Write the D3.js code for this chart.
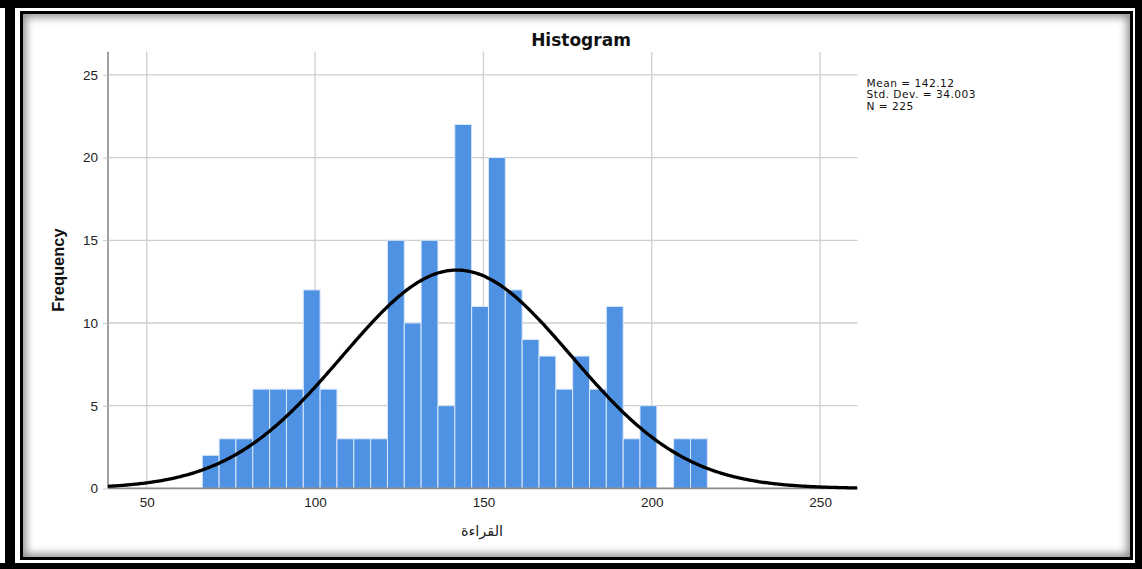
<!DOCTYPE html>
<html>
<head>
<meta charset="utf-8">
<script src="https://cdn.jsdelivr.net/npm/d3@7/dist/d3.min.js"></script>
<style>
  html, body { margin: 0; padding: 0; background: #fff; }
  body { width: 1142px; height: 569px; position: relative; overflow: hidden; }
  .blk { position: absolute; background: #000; }
  #inner { position: absolute; left: 20px; top: 11px; width: 1107px; height: 543px;
           border: 3px solid #000; box-shadow: inset 0 0 9px 3px rgba(0,0,0,0.45); background: #fff; }
  svg { position: absolute; left: 0; top: 0; }
</style>
</head>
<body>
<div class="blk" style="left:0;top:0;width:1142px;height:8px"></div>
<div class="blk" style="left:5px;top:0;width:10px;height:569px"></div>
<div class="blk" style="left:0;top:563px;width:1142px;height:6px"></div>
<div class="blk" style="left:1135px;top:0;width:7px;height:569px"></div>
<div id="inner"></div>
<svg id="chart" width="1142" height="569"></svg>
<script>
// ---- data ----
const binStart = 66.5;
const binWidth = 5;
const counts = [2, 3, 3, 6, 6, 6, 12, 6, 3, 3, 3, 15, 10, 15, 5, 22, 11, 20, 12, 9, 8, 6, 8, 6, 11, 3, 5, 0, 3, 3];
const xTicks = [50, 100, 150, 200, 250];
const yTicks = [0, 5, 10, 15, 20, 25];
const statsLines = ["Mean = 142.12", "Std. Dev. = 34.003", "N = 225"];
const mean = 142.12, sd = 34.003, N = 225;
const title = "Histogram";
const xLabel = "القراءة";
const yLabel = "Frequency";

// ---- layout ----
const svg = d3.select("#chart");
const x = d3.scaleLinear().domain([38.5, 261.1]).range([108, 857.5]);
const y = d3.scaleLinear().domain([0, 26.4]).range([488.4, 51.7]);

const bins = counts.map((c, i) => ({ x0: binStart + i * binWidth, x1: binStart + (i + 1) * binWidth, c }));

// grid
svg.append("g").selectAll("line").data(yTicks.filter(d => d > 0)).join("line")
  .attr("x1", x.range()[0]).attr("x2", x.range()[1])
  .attr("y1", d => y(d)).attr("y2", d => y(d))
  .attr("stroke", "#cfcfcf").attr("stroke-width", 1.3);
svg.append("g").selectAll("line").data(xTicks).join("line")
  .attr("x1", d => x(d)).attr("x2", d => x(d))
  .attr("y1", y.range()[1]).attr("y2", y.range()[0])
  .attr("stroke", "#cfcfcf").attr("stroke-width", 1.3);

// bars
svg.append("g").selectAll("rect").data(bins.filter(b => b.c > 0)).join("rect")
  .attr("x", b => x(b.x0)).attr("width", b => x(b.x1) - x(b.x0))
  .attr("y", b => y(b.c)).attr("height", b => y(0) - y(b.c))
  .attr("fill", "#4f91e3").attr("stroke", "#d9e8fa").attr("stroke-width", 1);

// axes
const yAxis = svg.append("g").attr("transform", `translate(${x.range()[0]},0)`)
  .call(d3.axisLeft(y).tickValues(yTicks).tickSize(5).tickPadding(5));
const xAxis = svg.append("g").attr("transform", `translate(0,${y(0)})`)
  .call(d3.axisBottom(x).tickValues(xTicks).tickSize(0).tickPadding(9));
[yAxis, xAxis].forEach(g => {
  g.select(".domain").attr("stroke", "#8a8a8a").attr("stroke-width", 1.6);
  g.selectAll(".tick line").attr("stroke", "#c8c8c8");
  g.selectAll("text").attr("fill", "#222").style("font-family", "'Liberation Sans', Arial, sans-serif").style("font-size", "13.5px");
});
xAxis.select(".domain").attr("d", `M${x.range()[0]},0H${x.range()[1]}`);
yAxis.select(".domain").attr("d", `M0,${y.range()[0]}V${y.range()[1]}`);

// normal curve
const pdf = v => N * binWidth / (sd * Math.sqrt(2 * Math.PI)) * Math.exp(-0.5 * ((v - mean) / sd) ** 2);
const xs = d3.range(x.domain()[0], x.domain()[1] + 0.01, 0.5);
svg.append("path").datum(xs)
  .attr("d", d3.line().x(v => x(v)).y(v => y(pdf(v))).curve(d3.curveBasis))
  .attr("fill", "none").attr("stroke", "#000").attr("stroke-width", 3.3);

// title
svg.append("text").attr("x", 581).attr("y", 46).attr("text-anchor", "middle")
  .style("font-family", "'DejaVu Sans', sans-serif").style("font-weight", "bold").style("font-size", "17px")
  .attr("fill", "#111").text(title);

// y label
svg.append("text").attr("transform", `translate(64,${(y.range()[0] + y.range()[1]) / 2}) rotate(-90)`)
  .attr("text-anchor", "middle")
  .style("font-family", "'Liberation Sans', Arial, sans-serif").style("font-weight", "bold").style("font-size", "16.5px")
  .attr("fill", "#111").text(yLabel);

// x label
svg.append("text").attr("x", 482).attr("y", 536).attr("text-anchor", "middle")
  .style("font-family", "'DejaVu Sans', sans-serif").style("font-size", "14.5px")
  .style("letter-spacing", "0.6px")
  .attr("fill", "#222").text(xLabel);

// stats
svg.append("g").selectAll("text").data(statsLines).join("text")
  .attr("x", 866.5).attr("y", (d, i) => 86.5 + i * 11.5)
  .style("font-family", "'DejaVu Sans', sans-serif").style("font-size", "10.6px")
  .style("letter-spacing", "0.5px")
  .attr("fill", "#111").text(d => d);
</script>
</body>
</html>
